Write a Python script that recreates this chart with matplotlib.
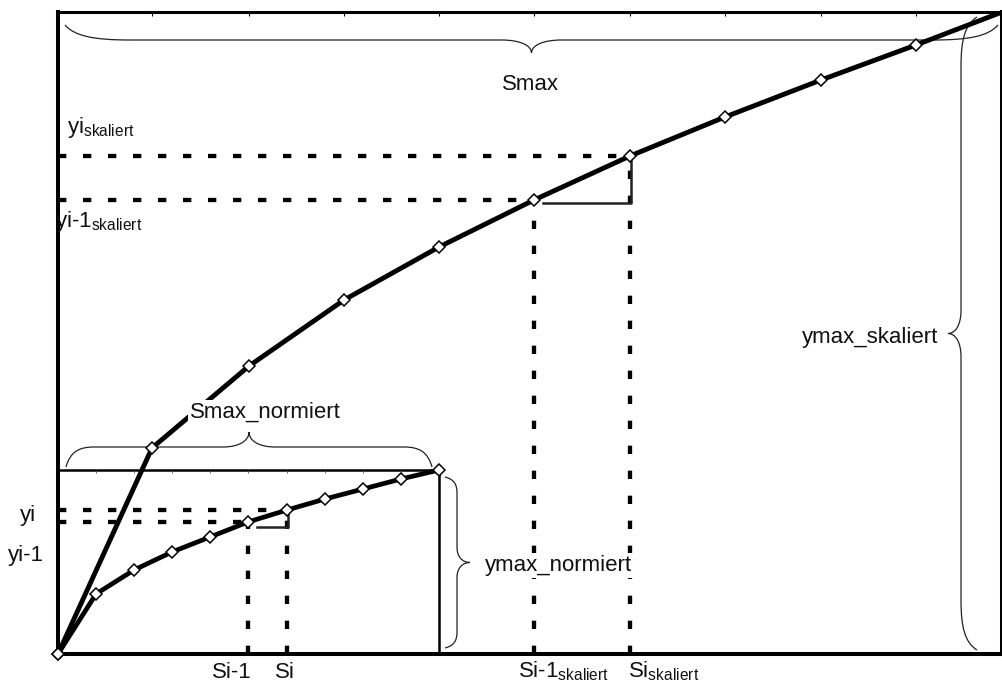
import matplotlib.pyplot as plt
from matplotlib.path import Path
from matplotlib.patches import PathPatch

plt.rcParams['font.family'] = ['Liberation Sans', 'DejaVu Sans']
plt.rcParams['mathtext.fontset'] = 'custom'
plt.rcParams['mathtext.rm'] = 'Liberation Sans'
plt.rcParams['mathtext.it'] = 'Liberation Sans:italic'
plt.rcParams['lines.scale_dashes'] = False

# normalised curve (small) and scaled curve (large)
small_s = [0, 38, 76, 114, 152, 190, 229, 267, 305, 343, 381]
small_y = [0, 60, 84, 102, 117, 132, 144, 155, 165, 175, 184]
big_s = [0, 94, 191, 286, 381, 476, 572, 667, 763, 858, 952]
big_y = [0, 206, 288, 354, 407, 454, 498, 537, 574, 609, 645]
i = 6  # index of the highlighted point S_i

fig = plt.figure(figsize=(10.02, 6.84), dpi=100)
ax = fig.add_axes([58 / 1002, 30 / 684, 944 / 1002, 642 / 684])
ax.set_xlim(0, 944)
ax.set_ylim(0, 642)
ax.set_yticks([])
ax.set_xticks(big_s[1:10])
ax.tick_params(axis='x', which='both', bottom=False, top=True, labelbottom=False,
               direction='in', length=3, width=0.8)
ax.spines['left'].set_linewidth(2.9)
ax.spines['bottom'].set_linewidth(2.9)
ax.spines['top'].set_linewidth(2.2)
ax.spines['right'].set_linewidth(2.9)

dash = (0, (6, 12))
mk = dict(marker='D', markersize=6.5, markerfacecolor='white', markeredgecolor='black',
          markeredgewidth=1.1)

# normalised box
ax.plot([0, small_s[-1]], [small_y[-1], small_y[-1]], color='black', lw=1.8, zorder=2)
ax.plot([small_s[-1], small_s[-1]], [0, small_y[-1]], color='black', lw=1.8, zorder=2)
ax.vlines(small_s[1:10], small_y[-1] - 3, small_y[-1], color='#555', lw=0.6, zorder=2)

# dashed guides and step triangles for both curves
for xs, ys, off in [(small_s, small_y, 5), (big_s, big_y, 3)]:
    for k in (i - 1, i):
        ax.plot([0, xs[k]], [ys[k], ys[k]], color='black', lw=3.1, ls=dash, zorder=2)
        ax.plot([xs[k], xs[k]], [0, ys[k]], color='black', lw=3.1, ls=dash, zorder=2)
    ax.plot([xs[i - 1] + 9, xs[i] + 1, xs[i] + 1],
            [ys[i - 1] - off, ys[i - 1] - off, ys[i]], color='#222', lw=1.8, zorder=3)

# curves
ax.plot(small_s, small_y, color='black', lw=3.4, zorder=4, clip_on=False, **mk)
ax.plot(big_s, big_y, color='black', lw=3.5, zorder=4, **mk)
ax.plot(big_s[:1], big_y[:1], ls='none', zorder=5, clip_on=False, **mk)


def brace(a, b, base, sign, d, t, l1, l2, horizontal):
    h = (a + b) / 2
    pts = [(a, 0),
           (a + 0.15 * l1, 0.75 * d), (a + 0.45 * l1, d), (a + l1, d),
           (h - l2, d),
           (h - 0.4 * l2, d), (h, d + 0.4 * t), (h, d + t),
           (h, d + 0.4 * t), (h + 0.4 * l2, d), (h + l2, d),
           (b - l1, d),
           (b - 0.45 * l1, d), (b - 0.15 * l1, 0.75 * d), (b, 0)]
    codes = [Path.MOVETO] + [Path.CURVE4] * 3 + [Path.LINETO] + [Path.CURVE4] * 6 \
        + [Path.LINETO] + [Path.CURVE4] * 3
    if horizontal:
        verts = [(s, base + sign * n) for s, n in pts]
    else:
        verts = [(base + sign * n, s) for s, n in pts]
    ax.add_patch(PathPatch(Path(verts, codes), fill=False, lw=0.9, edgecolor='#222',
                           clip_on=False, zorder=3))


brace(7, 940, 629, -1, 15, 13, 65, 30, True)
brace(8, 374, 187, 1, 20, 15, 28, 26, True)
brace(4, 637, 919, -1, 16, 13, 50, 23, False)
brace(6, 177, 387, 1, 12, 13, 16, 15, False)

fs = 16
sub = r'$_{\mathrm{skaliert}}$'
txt = dict(fontsize=fs, color='#111', clip_on=False, zorder=6)
box = dict(facecolor='white', edgecolor='none', pad=1.5)
ax.text(472, 569, 'Smax', ha='center', va='center', **txt)
ax.text(207, 242, 'Smax_normiert', ha='center', va='center', bbox=box, **txt)
ax.text(427, 89, 'ymax_normiert', ha='left', va='center', bbox=box, **txt)
ax.text(880, 316, 'ymax_skaliert', ha='right', va='center', **txt)
ax.text(9, 527, 'yi' + sub, ha='left', va='center', **txt)
ax.text(-3, 432, 'yi-1' + sub, ha='left', va='center', **txt)
ax.text(-38, 139, 'yi', ha='left', va='center', **txt)
ax.text(-50, 99, 'yi-1', ha='left', va='center', **txt)
ax.text(154, -19, 'Si-1', ha='left', va='center', **txt)
ax.text(217, -19, 'Si', ha='left', va='center', **txt)
ax.text(460, -17, 'Si-1' + sub, ha='left', va='center', **txt)
ax.text(570, -17, 'Si' + sub, ha='left', va='center', **txt)

fig.savefig('out.png', dpi=100)
